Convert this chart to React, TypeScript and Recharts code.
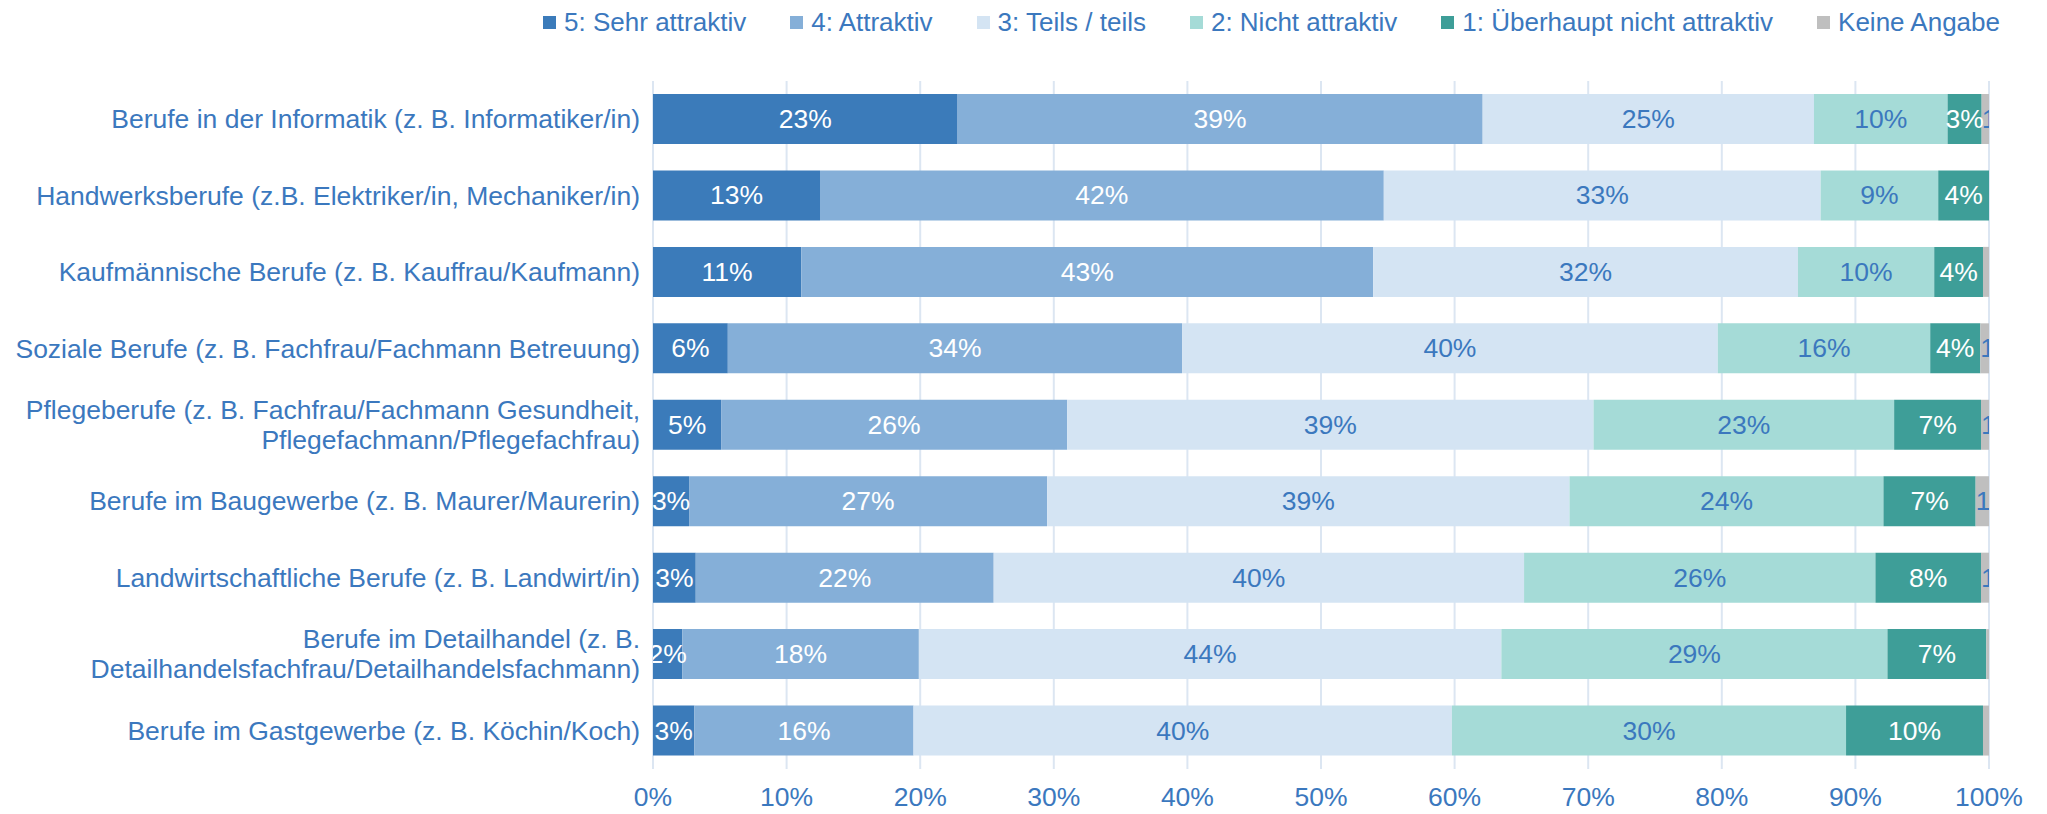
import React from 'react';
import { BarChart, Bar, XAxis, YAxis, CartesianGrid, LabelList } from 'recharts';

const CATEGORIES = [
  'Berufe in der Informatik (z. B. Informatiker/in)',
  'Handwerksberufe (z.B. Elektriker/in, Mechaniker/in)',
  'Kaufmännische Berufe (z. B. Kauffrau/Kaufmann)',
  'Soziale Berufe (z. B. Fachfrau/Fachmann Betreuung)',
  'Pflegeberufe (z. B. Fachfrau/Fachmann Gesundheit,\nPflegefachmann/Pflegefachfrau)',
  'Berufe im Baugewerbe (z. B. Maurer/Maurerin)',
  'Landwirtschaftliche Berufe (z. B. Landwirt/in)',
  'Berufe im Detailhandel (z. B.\nDetailhandelsfachfrau/Detailhandelsfachmann)',
  'Berufe im Gastgewerbe (z. B. Köchin/Koch)',
];

const SEHR = [22.8, 12.5, 11.1, 5.6, 5.1, 2.7, 3.2, 2.2, 3.1];
const ATTRAKTIV = [39.3, 42.2, 42.8, 34.0, 25.9, 26.8, 22.3, 17.7, 16.4];
const TEILS = [24.8, 32.7, 31.8, 40.1, 39.4, 39.1, 39.7, 43.6, 40.3];
const NICHT = [10.0, 8.8, 10.2, 15.9, 22.5, 23.5, 26.3, 28.9, 29.5];
const UEBERHAUPT = [2.55, 3.8, 3.65, 3.75, 6.5, 6.9, 7.9, 7.4, 10.25];
const KEINE = [0.55, 0, 0.45, 0.65, 0.6, 1.0, 0.6, 0.2, 0.45];

const X_TICKS = [0, 10, 20, 30, 40, 50, 60, 70, 80, 90, 100];

const SERIES = [
  { key: 'sehr', name: '5: Sehr attraktiv', color: '#3B7BBA', labelColor: '#FFFFFF' },
  { key: 'attraktiv', name: '4: Attraktiv', color: '#85AFD8', labelColor: '#FFFFFF' },
  { key: 'teils', name: '3: Teils / teils', color: '#D4E4F3', labelColor: '#3B78BE' },
  { key: 'nicht', name: '2: Nicht attraktiv', color: '#A5DBD7', labelColor: '#3B78BE' },
  { key: 'ueberhaupt', name: '1: Überhaupt nicht attraktiv', color: '#3E9E98', labelColor: '#FFFFFF' },
  { key: 'keine', name: 'Keine Angabe', color: '#BFBFBF', labelColor: '#3B78BE' },
];

const data = CATEGORIES.map((name, i) => ({
  name,
  sehr: SEHR[i],
  attraktiv: ATTRAKTIV[i],
  teils: TEILS[i],
  nicht: NICHT[i],
  ueberhaupt: UEBERHAUPT[i],
  keine: KEINE[i],
}));

const W = 2047;
const H = 814;
const Y_AXIS_W = 653;
const MARGIN = { top: 81, right: 58, bottom: 0, left: 0 };
const PLOT_LEFT = MARGIN.left + Y_AXIS_W;
const PLOT_RIGHT = W - MARGIN.right;
const TEXT = '#3B78BE';
const FONT = '"Liberation Sans", Arial, sans-serif';

function CategoryTick(props: any) {
  const { x, y, payload } = props;
  const lines = String(payload.value).split('\n');
  const lh = 30;
  const start = -((lines.length - 1) * lh) / 2;
  return (
    <text x={x - 5} y={y} textAnchor="end" fill={TEXT} fontSize={26.5} fontFamily={FONT}>
      {lines.map((l, i) => (
        <tspan key={i} x={x - 5} dy={i === 0 ? start + 9 : lh}>{l}</tspan>
      ))}
    </text>
  );
}

function makeLabel(key: string, color: string, startAligned: boolean) {
  return (props: any) => {
    const { x, y, width, height, value, index } = props;
    const r = Math.round(Number(value));
    if (!value || r < 1) return null;
    const id = `clip-${key}-${index}`;
    return (
      <g>
        <defs>
          <clipPath id={id}>
            <rect x={PLOT_LEFT} y={y - 5} width={PLOT_RIGHT - PLOT_LEFT} height={height + 10} />
          </clipPath>
        </defs>
        <text
          clipPath={`url(#${id})`}
          x={startAligned ? x : x + width / 2}
          y={y + height / 2}
          dy={9}
          textAnchor={startAligned ? 'start' : 'middle'}
          fill={color}
          fontSize={26.5}
          fontFamily={FONT}
        >
          {r + '%'}
        </text>
      </g>
    );
  };
}

function ChartLegend() {
  return (
    <div
      style={{
        position: 'absolute',
        top: 6,
        right: 47,
        display: 'flex',
        gap: 44,
        fontFamily: FONT,
        fontSize: 26,
        color: TEXT,
        lineHeight: '32px',
      }}
    >
      {SERIES.map((s) => (
        <div key={s.key} style={{ display: 'flex', alignItems: 'center', gap: 8 }}>
          <span style={{ width: 13, height: 13, background: s.color, display: 'inline-block' }} />
          <span>{s.name}</span>
        </div>
      ))}
    </div>
  );
}

export default function App() {
  return (
    <div style={{ position: 'absolute', left: 0, top: 0, width: W, height: H, background: '#fff' }}>
      <ChartLegend />
      <BarChart width={W} height={H} data={data} layout="vertical" margin={MARGIN} barSize={50}>
        <CartesianGrid horizontal={false} stroke="#DCE6F2" strokeWidth={2} />
        <XAxis
          type="number"
          domain={[0, 100]}
          ticks={X_TICKS}
          tickFormatter={(v) => `${v}%`}
          axisLine={false}
          tickLine={false}
          height={45}
          tickMargin={12}
          tick={{ fontSize: 26.5, fill: TEXT, fontFamily: FONT }}
        />
        <YAxis
          type="category"
          dataKey="name"
          width={Y_AXIS_W}
          axisLine={false}
          tickLine={false}
          interval={0}
          tick={<CategoryTick />}
        />
        {SERIES.map((s) => (
          <Bar key={s.key} dataKey={s.key} name={s.name} stackId="a" fill={s.color} isAnimationActive={false}>
            <LabelList dataKey={s.key} content={makeLabel(s.key, s.labelColor, s.key === 'keine')} />
          </Bar>
        ))}
      </BarChart>
    </div>
  );
}
